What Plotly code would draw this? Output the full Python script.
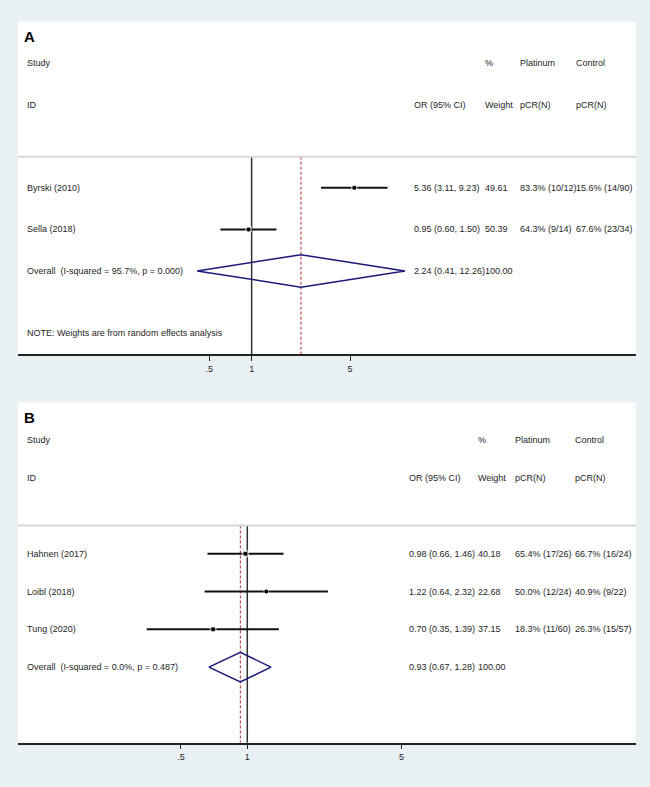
import numpy as np
import plotly.graph_objects as go

# Panel A data
a_studies = ["Byrski (2010)", "Sella (2018)"]
a_or = [5.36, 0.95]
a_lo = [3.11, 0.60]
a_hi = [9.23, 1.50]
a_wt = [49.61, 50.39]
a_plat = ["83.3% (10/12)", "64.3% (9/14)"]
a_ctrl = ["15.6% (14/90)", "67.6% (23/34)"]
a_overall = [2.24, 0.41, 12.26]
a_het = "Overall  (I-squared = 95.7%, p = 0.000)"

# Panel B data
b_studies = ["Hahnen (2017)", "Loibl (2018)", "Tung (2020)"]
b_or = [0.98, 1.22, 0.70]
b_lo = [0.66, 0.64, 0.35]
b_hi = [1.46, 2.32, 1.39]
b_wt = [40.18, 22.68, 37.15]
b_plat = ["65.4% (17/26)", "50.0% (12/24)", "18.3% (11/60)"]
b_ctrl = ["66.7% (16/24)", "40.9% (9/22)", "26.3% (15/57)"]
b_overall = [0.93, 0.67, 1.28]
b_het = "Overall  (I-squared = 0.0%, p = 0.487)"

tick_vals = [0.5, 1, 5]
tick_text = [".5", "1", "5"]

W, H = 650, 787
FONT = "Liberation Sans, Arial, sans-serif"
TXT = "#1e1e1e"
BG = "#e9f1f4"

fig = go.Figure()


def add_panel(n, label, studies, orv, lo, hi, wt, plat, ctrl, overall, het,
              top_px, bot_px, xrange, yrange, cols, box_k, note=None):
    xa = "x" if n == 1 else "x%d" % n
    ya = "y" if n == 1 else "y%d" % n
    rows = list(range(1, len(studies) + 1))
    orow = len(studies) + 1
    sep = 0.25

    # reference lines: null (1) and overall estimate
    fig.add_trace(go.Scatter(x=[1, 1], y=[sep, yrange[0]], mode="lines",
                             line=dict(color="#333333", width=1.5),
                             xaxis=xa, yaxis=ya, showlegend=False, hoverinfo="skip"))
    fig.add_trace(go.Scatter(x=[overall[0], overall[0]], y=[sep, yrange[0]], mode="lines",
                             line=dict(color="#b0282f", width=1, dash="3px,2px"),
                             xaxis=xa, yaxis=ya, showlegend=False, hoverinfo="skip"))

    # CIs
    for r, l, h in zip(rows, lo, hi):
        fig.add_trace(go.Scatter(x=[l, h], y=[r, r], mode="lines",
                                 line=dict(color="#111111", width=2),
                                 xaxis=xa, yaxis=ya, showlegend=False, hoverinfo="skip"))
    # weight boxes + point estimates
    fig.add_trace(go.Scatter(x=orv, y=rows, mode="markers",
                             marker=dict(symbol="square", color="#b3b3b3",
                                         size=[box_k * np.sqrt(w) for w in wt]),
                             xaxis=xa, yaxis=ya, showlegend=False, hoverinfo="skip"))
    fig.add_trace(go.Scatter(x=orv, y=rows, mode="markers",
                             marker=dict(symbol="circle", color="#000000", size=4),
                             xaxis=xa, yaxis=ya, showlegend=False, hoverinfo="skip"))

    # overall diamond
    est, olo, ohi = overall
    fig.add_trace(go.Scatter(x=[olo, est, ohi, est, olo],
                             y=[orow, orow - 0.39, orow, orow + 0.39, orow],
                             mode="lines", line=dict(color="#1a1a7a", width=1.5),
                             xaxis=xa, yaxis=ya, showlegend=False, hoverinfo="skip"))

    # separator under header
    fig.add_shape(type="line", xref="x%s domain" % ("" if n == 1 else n), yref=ya,
                  x0=0, x1=1, y0=sep, y1=sep, line=dict(color="#d6d6d6", width=2))

    def txt(x_px, y, s):
        fig.add_annotation(x=x_px / W, xref="paper", y=y, yref=ya, text=s,
                           showarrow=False, xanchor="left", yanchor="middle",
                           font=dict(family=FONT, size=9, color=TXT))

    c_id, c_or, c_wt, c_pl, c_ct = cols
    txt(c_id, -2, "Study")
    txt(c_id, -1, "ID")
    txt(c_or, -1, "OR (95% CI)")
    txt(c_wt, -2, "%")
    txt(c_wt, -1, "Weight")
    txt(c_pl, -2, "Platinum")
    txt(c_pl, -1, "pCR(N)")
    txt(c_ct, -2, "Control")
    txt(c_ct, -1, "pCR(N)")
    for r, s, o, l, h, w, p, c in zip(rows, studies, orv, lo, hi, wt, plat, ctrl):
        txt(c_id, r, s)
        txt(c_or, r, "%.2f (%.2f, %.2f)" % (o, l, h))
        txt(c_wt, r, "%.2f" % w)
        txt(c_pl, r, p)
        txt(c_ct, r, c)
    txt(c_id, orow, het)
    txt(c_or, orow, "%.2f (%.2f, %.2f)" % (est, olo, ohi))
    txt(c_wt, orow, "100.00")
    if note:
        txt(c_id, orow + 1.5, note)

    # panel letter
    fig.add_annotation(x=22 / W, xref="paper", y=1 - (top_px + 15) / H, yref="paper",
                       text="<b>%s</b>" % label, showarrow=False,
                       xanchor="left", yanchor="middle",
                       font=dict(family=FONT, size=15, color="#000000"))

    dom_y = [1 - bot_px / H, 1 - top_px / H]
    xkey = "xaxis" if n == 1 else "xaxis%d" % n
    ykey = "yaxis" if n == 1 else "yaxis%d" % n
    fig.update_layout(**{
        xkey: dict(type="log", range=xrange, domain=[18 / W, 635.7 / W],
                   anchor=ya, showgrid=False, zeroline=False,
                   showline=True, linecolor="#222222", linewidth=1.5,
                   ticks="outside", ticklen=5, tickwidth=1.2, tickcolor="#222222",
                   tickvals=tick_vals, ticktext=tick_text,
                   tickfont=dict(family=FONT, size=9, color=TXT)),
        ykey: dict(range=yrange, domain=dom_y, anchor=xa, visible=False,
                   showgrid=False, zeroline=False),
    })


add_panel(1, "A", a_studies, a_or, a_lo, a_hi, a_wt, a_plat, a_ctrl, a_overall, a_het,
          21.7, 354, [-1.659, 2.727], [5, -3],
          (25, 411.7, 482.5, 518, 574), 0.75,
          note="NOTE: Weights are from random effects analysis")
add_panel(2, "B", b_studies, b_or, b_lo, b_hi, b_wt, b_plat, b_ctrl, b_overall, b_het,
          402.7, 742.7, [-1.0395, 1.761], [6, -3],
          (25, 407.3, 476, 512.7, 572.7), 0.95)

fig.update_layout(
    width=W, height=H,
    margin=dict(l=0, r=0, t=0, b=0),
    paper_bgcolor=BG,
    plot_bgcolor="white",
    showlegend=False,
)

# drop the browser's default body margin so the figure sits at (0, 0)
fig.write_html("out.html", config={"displayModeBar": False},
               post_script="document.body.style.margin='0';document.body.style.background='%s';" % BG)
